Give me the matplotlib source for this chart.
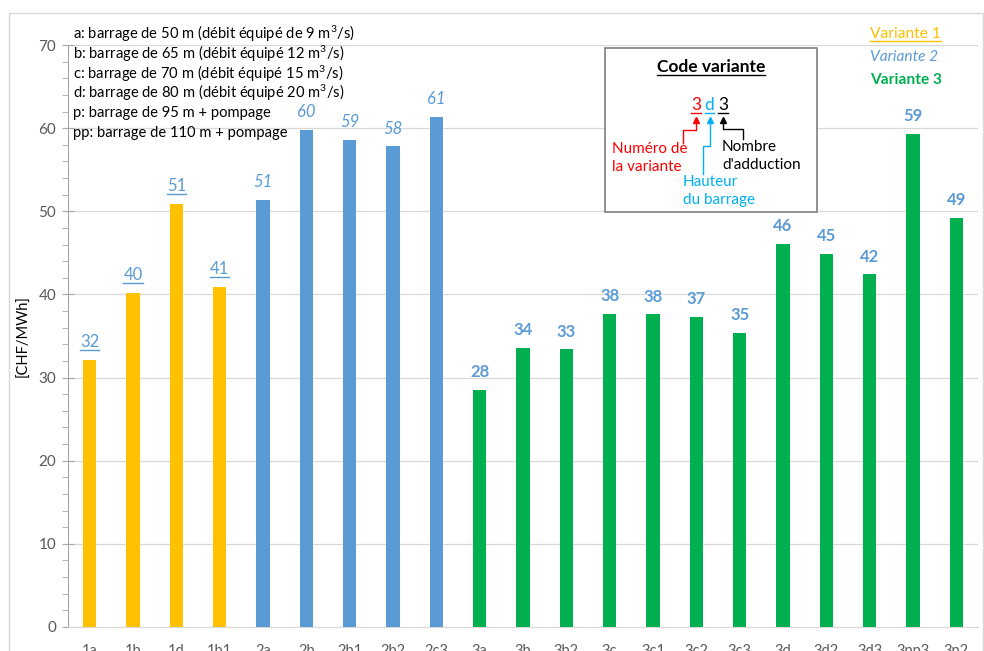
import matplotlib
matplotlib.use("Agg")
import matplotlib.pyplot as plt
from matplotlib.patches import Rectangle
from matplotlib.ticker import MultipleLocator

plt.rcParams['font.family'] = ['Lato', 'DejaVu Sans']
plt.rcParams['mathtext.fontset'] = 'custom'
plt.rcParams['mathtext.rm'] = 'Lato'
plt.rcParams['mathtext.it'] = 'Lato:italic'

# data
cats_v1 = ['1a', '1b', '1d', '1b1']
vals_v1 = [32.1, 40.2, 50.9, 40.9]
cats_v2 = ['2a', '2b', '2b1', '2b2', '2c3']
vals_v2 = [51.4, 59.8, 58.6, 57.8, 61.4]
cats_v3 = ['3a', '3b', '3b2', '3c', '3c1', '3c2', '3c3', '3d', '3d2', '3d3', '3pp3', '3p2']
vals_v3 = [28.5, 33.6, 33.4, 37.7, 37.6, 37.3, 35.4, 46.1, 44.9, 42.4, 59.3, 49.2]

legend_lines = [
    r'a: barrage de 50 m (débit équipé de 9 m$^3$/s)',
    r'b: barrage de 65 m (débit équipé 12 m$^3$/s)',
    r'c: barrage de 70 m (débit équipé 15 m$^3$/s)',
    r'd: barrage de 80 m (débit équipé 20 m$^3$/s)',
    'p: barrage de 95 m + pompage',
    'pp: barrage de 110 m + pompage',
]

YELLOW = '#FFC000'
BLUE = '#5B9BD5'
GREEN = '#00B050'
LBLUE = '#00B0F0'
GREY = '#595959'

W, H = 984, 651
fig = plt.figure(figsize=(W / 100, H / 100), dpi=100)
ax = fig.add_axes([68 / W, 1 - 627 / H, (978 - 68) / W, (627 - 45) / H])

cats = cats_v1 + cats_v2 + cats_v3
groups = [(cats_v1, vals_v1, YELLOW, dict(style='normal', weight='normal'), True),
          (cats_v2, vals_v2, BLUE, dict(style='italic', weight='normal'), False),
          (cats_v3, vals_v3, GREEN, dict(style='normal', weight='bold'), False)]

value_texts = []
start = 0
for c, v, col, fstyle, under in groups:
    xs = list(range(start, start + len(c)))
    ax.bar(xs, v, width=0.31, color=col, zorder=3)
    for x, y in zip(xs, v):
        t = ax.annotate(f'{y:.0f}', (x, y), xytext=(0, 7), textcoords='offset points',
                        ha='center', va='bottom', color=BLUE, fontsize=12, **fstyle)
        if under:
            value_texts.append(t)
    start += len(c)

ax.set_xlim(-0.5, len(cats) - 0.5)
ax.set_ylim(0, 70)
ax.set_xticks(range(len(cats)))
ax.set_xticklabels(cats)
ax.yaxis.set_major_locator(MultipleLocator(10))
ax.yaxis.set_minor_locator(MultipleLocator(2))
ax.grid(axis='y', color='#D9D9D9', linewidth=0.9, zorder=0)
for s in ['top', 'right']:
    ax.spines[s].set_visible(False)
ax.spines['left'].set_color('#A6A6A6')
ax.spines['bottom'].set_color('#D9D9D9')
ax.tick_params(axis='x', length=0, pad=12, labelsize=10.5, labelcolor=GREY)
ax.tick_params(axis='y', which='major', direction='inout', length=9, color='#A6A6A6',
               labelsize=11, labelcolor=GREY, pad=4)
ax.tick_params(axis='y', which='minor', direction='out', length=4, color='#A6A6A6')
ax.set_ylabel('[CHF/MWh]', fontsize=10.5, color='black', labelpad=6)
ax.set_facecolor('none')

# overlay in pixel coordinates for annotations
ov = fig.add_axes([0, 0, 1, 1], zorder=5)
ov.set_xlim(0, W)
ov.set_ylim(H, 0)
ov.axis('off')
ov.patch.set_alpha(0)

ov.add_patch(Rectangle((9, 13), W - 9 - 1, H, fill=False, edgecolor='#D9D9D9', lw=1))

for i, line in enumerate(legend_lines):
    ov.text(73, 34 + i * 19.7, line, fontsize=10.6, va='center', ha='left', color='black')

under_texts = [(t, t.get_color()) for t in value_texts]

# variant legend
t1 = ov.text(870, 34, 'Variante 1', color=YELLOW, fontsize=11.2, va='center')
ov.text(870, 57, 'Variante 2', color=BLUE, fontsize=11.2, va='center', style='italic')
ov.text(870, 80, 'Variante 3', color=GREEN, fontsize=11.2, va='center', weight='bold')
under_texts.append((t1, YELLOW))

# code variante box
ov.add_patch(Rectangle((605, 48), 212, 164, facecolor='white', edgecolor='#7F7F7F', lw=1.2, zorder=2))
tt = ov.text(711, 67, 'Code variante', ha='center', va='center', fontsize=12.5, weight='bold', zorder=3)
under_texts.append((tt, 'black'))
code = [(696, '3', 'red'), (709.5, 'd', LBLUE), (723, '3', 'black')]
for x, ch, col in code:
    t = ov.text(x, 105, ch, ha='center', va='center', fontsize=12.5, color=col, zorder=3)
    under_texts.append((t, col))
    ov.plot([x], [120], marker='^', markersize=5, color=col, zorder=3)

ov.plot([696, 696, 683, 683], [121, 130, 130, 143], color='red', lw=1, zorder=3)
ov.plot([710, 710, 703, 703], [121, 146, 146, 174], color=LBLUE, lw=1, zorder=3)
ov.plot([723, 723, 743, 743], [121, 129, 129, 139], color='black', lw=1, zorder=3)

ov.text(612, 158, 'Numéro de\nla variante', color='red', fontsize=11, va='center',
        linespacing=1.35, zorder=3)
ov.text(683, 191, 'Hauteur\ndu barrage', color=LBLUE, fontsize=11, va='center',
        linespacing=1.35, zorder=3)
ov.text(722, 156, "Nombre\nd'adduction", color='black', fontsize=11, va='center',
        linespacing=1.35, zorder=3)

# underlines
fig.canvas.draw()
r = fig.canvas.get_renderer()
inv = ov.transData.inverted()
for t, col in under_texts:
    bb = t.get_window_extent(r)
    (x0, y0), (x1, y1) = inv.transform([[bb.x0, bb.y0], [bb.x1, bb.y1]])
    ov.plot([x0, x1], [y0 - 0.5, y0 - 0.5], color=col, lw=1, zorder=4)

fig.savefig('out.png', dpi=100, facecolor='white')
